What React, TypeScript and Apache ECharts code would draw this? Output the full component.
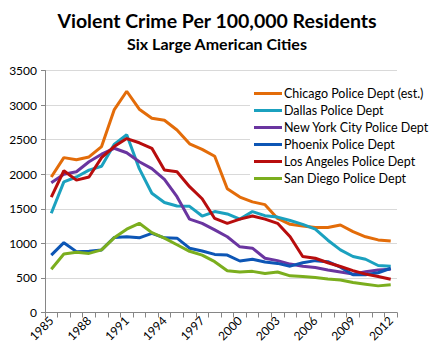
import React, { useEffect, useRef } from "react";
import * as echarts from "echarts";

const years = [
  "1985", "1986", "1987", "1988", "1989", "1990", "1991", "1992", "1993", "1994",
  "1995", "1996", "1997", "1998", "1999", "2000", "2001", "2002", "2003", "2004",
  "2005", "2006", "2007", "2008", "2009", "2010", "2011", "2012",
];

const chicago = [1960, 2240, 2210, 2250, 2400, 2930, 3200, 2940, 2810, 2780, 2640, 2440, 2360, 2260, 1790, 1670, 1600, 1560, 1360, 1275, 1250, 1230, 1230, 1265, 1170, 1095, 1050, 1035];
const dallas = [1435, 1890, 1960, 2060, 2115, 2430, 2570, 2080, 1725, 1590, 1540, 1535, 1395, 1460, 1425, 1350, 1460, 1400, 1380, 1330, 1275, 1205, 1045, 905, 810, 770, 680, 670];
const newYork = [1875, 2000, 2035, 2180, 2290, 2375, 2310, 2180, 2080, 1925, 1675, 1350, 1290, 1195, 1095, 950, 930, 785, 750, 700, 670, 650, 615, 585, 555, 590, 615, 625];
const phoenix = [830, 1010, 880, 885, 905, 1085, 1095, 1080, 1145, 1080, 1075, 930, 890, 840, 830, 745, 770, 730, 710, 670, 720, 750, 735, 655, 545, 545, 575, 640];
const losAngeles = [1670, 2050, 1915, 1960, 2240, 2400, 2515, 2455, 2375, 2060, 2035, 1820, 1645, 1360, 1290, 1350, 1395, 1350, 1290, 1095, 810, 785, 720, 665, 605, 555, 520, 480];
const sanDiego = [625, 845, 870, 855, 905, 1080, 1205, 1290, 1155, 1075, 980, 885, 830, 735, 605, 585, 595, 565, 585, 530, 520, 505, 485, 470, 435, 410, 385, 400];

const seriesNames = [
  "Chicago Police Dept (est.)",
  "Dallas Police Dept",
  "New York City Police Dept",
  "Phoenix Police Dept",
  "Los Angeles Police Dept",
  "San Diego Police Dept",
];
const seriesData = [chicago, dallas, newYork, phoenix, losAngeles, sanDiego];
const seriesColors = ["#E36C09", "#1BA1BF", "#6A35A0", "#0D56B5", "#B80D0D", "#7BAE1E"];

const FONT = "Lato, 'Open Sans', sans-serif";

export default function App() {
  const ref = useRef<HTMLDivElement>(null);
  useEffect(() => {
    if (!ref.current) return;
    const chart = echarts.init(ref.current, null, { renderer: "svg" });
    chart.setOption({
      animation: false,
      backgroundColor: "#ffffff",
      title: [
        {
          text: "Violent Crime Per 100,000 Residents",
          left: "center",
          top: 5,
          padding: [5, 15, 5, 5],
          textStyle: { fontFamily: FONT, fontWeight: "bold", fontSize: 19.5, color: "#000" },
        },
        {
          text: "Six Large American Cities",
          left: "center",
          top: 30,
          padding: [5, 15, 5, 5],
          textStyle: { fontFamily: FONT, fontWeight: "bold", fontSize: 16, color: "#000" },
        },
      ],
      legend: {
        orient: "vertical",
        left: 250,
        top: 83,
        backgroundColor: "#ffffff",
        padding: [2, 6, 2, 4],
        itemGap: 0,
        itemWidth: 28,
        itemHeight: 3,
        icon: "rect",
        textStyle: { fontFamily: FONT, fontSize: 12.5, color: "#000", lineHeight: 17, padding: [0, 0, 0, -3] },
        data: seriesNames.map((n, i) => ({ name: n, itemStyle: { color: seriesColors[i] } })),
      },
      grid: { left: 45, right: 37, top: 70.5, bottom: 42.5, containLabel: false },
      xAxis: {
        type: "category",
        data: years,
        boundaryGap: true,
        axisLine: { lineStyle: { color: "#868686", width: 1 } },
        axisTick: { show: true, interval: 0, length: 5, lineStyle: { color: "#868686" } },
        axisLabel: {
          interval: 2,
          rotate: 45,
          margin: 6,
          fontFamily: FONT,
          fontSize: 12,
          color: "#000",
        },
        splitLine: { show: false },
      },
      yAxis: {
        type: "value",
        min: 0,
        max: 3500,
        interval: 500,
        axisLine: { show: true, lineStyle: { color: "#868686", width: 1 } },
        axisTick: { show: true, length: 4, lineStyle: { color: "#868686" } },
        axisLabel: {
          fontFamily: FONT,
          fontSize: 12,
          color: "#000",
          margin: 8,
          formatter: (v: number) => String(v),
        },
        splitLine: { show: true, lineStyle: { color: "#D9D9D9", width: 1 } },
      },
      series: seriesNames.map((name, i) => ({
        name,
        type: "line",
        data: seriesData[i],
        showSymbol: false,
        symbol: "none",
        lineStyle: { width: 3, color: seriesColors[i] },
        itemStyle: { color: seriesColors[i] },
        z: 2,
      })),
    });
    return () => chart.dispose();
  }, []);
  return (
    <div
      ref={ref}
      style={{ position: "fixed", left: 0, top: 0, width: 434, height: 355, background: "#fff" }}
    />
  );
}
